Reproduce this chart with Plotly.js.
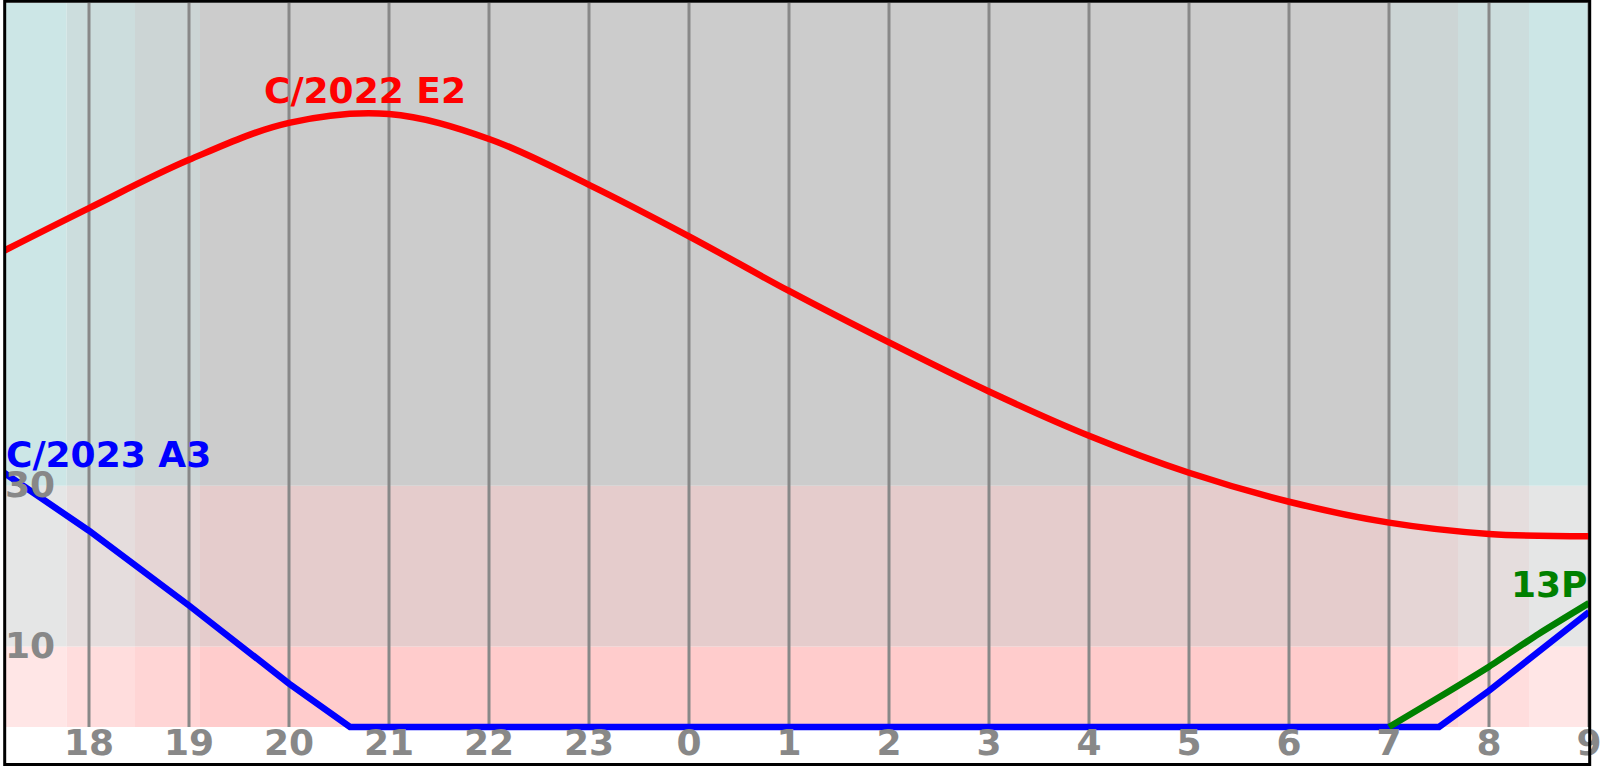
<!DOCTYPE html>
<html>
<head>
<meta charset="utf-8">
<script src="https://cdn.plot.ly/plotly-3.0.1.min.js"></script>
<style>
  html, body { margin: 0; padding: 0; background: #fff; }
  #chart { width: 1600px; height: 766px; }
</style>
</head>
<body>
<div id="chart"></div>
<script>
// ---------- data ----------
// hours (continuing past midnight: 24 = 0h, 33 = 9h)
const xRange = [17.15, 33];

const tickVals = [18, 19, 20, 21, 22, 23, 24, 25, 26, 27, 28, 29, 30, 31, 32, 33];
const tickText = ['18', '19', '20', '21', '22', '23', '0', '1', '2', '3', '4', '5', '6', '7', '8', '9'];

const altTickVals = [10, 30];
const altTickText = ['10', '30'];

// altitude bands (deg)
const bandEdges = [0, 10, 30, 90];

// twilight columns: start hour, end hour, level (0 = day ... 3 = night)
const twStart = [17.15, 17.777, 18.46, 19.11, 31.01, 31.69, 32.40];
const twEnd   = [17.777, 18.46, 19.11, 31.01, 31.69, 32.40, 33.0];
const twLevel = [0, 1, 2, 3, 2, 1, 0];

// comet C/2022 E2
const e2Name = 'C/2022 E2';
const e2X = [17.15, 18, 19, 20, 21, 22, 23, 24, 25, 26, 27, 28, 29, 30, 31, 32, 33];
const e2Y = [59.2, 64.5, 70.5, 75.1, 76.2, 73.1, 67.4, 61.0, 54.2, 47.8, 41.7, 36.2, 31.6, 28.0, 25.4, 24.0, 23.7];

// comet C/2023 A3
const a3Name = 'C/2023 A3';
const a3X = [17.15, 18, 19, 20, 20.61, 31.5, 32, 33];
const a3Y = [31.6, 24.4, 15.1, 5.4, 0, 0, 4.5, 14.3];

// comet 13P
const p13Name = '13P';
const p13X = [31.0, 31.5, 32, 32.5, 33];
const p13Y = [0, 3.7, 7.5, 11.6, 15.4];

// ---------- styling ----------
const FONT = 'DejaVu Sans';
const GRAY = '#888888';
const FS = 36;

function bandColor(bandIdx, level) {
  const g = Math.round(230 - 26 * level / 3);
  const r = [255, 229, 204][bandIdx];
  return 'rgb(' + r + ',' + g + ',' + g + ')';
}

const shapes = [];
for (let i = 0; i < twStart.length; i++) {
  for (let b = 0; b < bandEdges.length - 1; b++) {
    shapes.push({
      type: 'rect', xref: 'x', yref: 'y', layer: 'below',
      x0: twStart[i], x1: twEnd[i], y0: bandEdges[b], y1: bandEdges[b + 1],
      fillcolor: bandColor(b, twLevel[i]), line: { width: 0 }
    });
  }
}
// hour grid lines
tickVals.forEach(function (t) {
  shapes.push({
    type: 'line', xref: 'x', yref: 'y', layer: 'below',
    x0: t, x1: t, y0: bandEdges[0], y1: bandEdges[bandEdges.length - 1],
    line: { color: GRAY, width: 3 }
  });
});
// outer frame
shapes.push({
  type: 'rect', xref: 'paper', yref: 'paper', layer: 'above',
  x0: 0.00044, x1: 1.00044, y0: -0.046, y1: 1.0023,
  line: { color: '#000', width: 3 }, fillcolor: 'rgba(0,0,0,0)'
});

// label position at the series maximum (parabolic refinement for interior maxima)
function peakLabel(name, xs, ys, color) {
  let k = 0;
  for (let i = 1; i < ys.length; i++) if (ys[i] > ys[k]) k = i;
  let anchor = 'center';
  let px = xs[k], py = ys[k], shift = -4;
  if (k === 0) anchor = 'left';
  else if (k === ys.length - 1) anchor = 'right';
  else {
    const h = xs[k + 1] - xs[k];
    const d2 = ys[k + 1] - 2 * ys[k] + ys[k - 1];
    const d1 = (ys[k + 1] - ys[k - 1]) / 2;
    const t = -d1 / d2;
    px = xs[k] + t * h;
    py = ys[k] - d1 * d1 / (2 * d2);
    shift = 0;
  }
  return {
    x: px, y: py, xref: 'x', yref: 'y', text: name, showarrow: false,
    xanchor: anchor, yanchor: 'bottom', yshift: shift,
    font: { family: FONT, size: FS, color: color, weight: 'bold' }
  };
}

const annotations = [
  peakLabel(e2Name, e2X, e2Y, '#ff0000'),
  peakLabel(a3Name, a3X, a3Y, '#0000ff'),
  peakLabel(p13Name, p13X, p13Y, '#008000')
];
altTickVals.forEach(function (v, i) {
  annotations.push({
    x: 0, xref: 'paper', y: v, yref: 'y', text: altTickText[i], showarrow: false,
    xanchor: 'left', yanchor: 'middle', xshift: -1, yshift: 1,
    font: { family: FONT, size: FS, color: GRAY, weight: 'bold' }
  });
});

const lw = 6.5;
const traces = [
  { x: e2X, y: e2Y, mode: 'lines', line: { color: '#ff0000', width: lw, shape: 'spline', smoothing: 1 }, name: e2Name, hoverinfo: 'skip' },
  { x: a3X, y: a3Y, mode: 'lines', line: { color: '#0000ff', width: lw }, name: a3Name, hoverinfo: 'skip' },
  { x: p13X, y: p13Y, mode: 'lines', line: { color: '#008000', width: lw, shape: 'spline', smoothing: 0.6 }, name: p13Name, hoverinfo: 'skip' }
];

const layout = {
  width: 1600, height: 766,
  margin: { l: 4, r: 11, t: 3, b: 35, pad: 0 },
  paper_bgcolor: '#ffffff', plot_bgcolor: '#ffffff',
  showlegend: false,
  xaxis: {
    range: xRange, tickmode: 'array', tickvals: tickVals, ticktext: tickText,
    showgrid: false, zeroline: false, showline: false, ticks: '',
    tickfont: { family: FONT, size: FS, color: GRAY, weight: 'bold' },
    ticklabelstandoff: -13, ticklabeloverflow: 'allow',
    fixedrange: true, automargin: false
  },
  yaxis: {
    range: [-0.5, 90], showgrid: false, zeroline: false, showline: false,
    showticklabels: false, ticks: '', fixedrange: true, automargin: false
  },
  shapes: shapes,
  annotations: annotations
};

Plotly.newPlot('chart', traces, layout, { displayModeBar: false, staticPlot: true });
</script>
</body>
</html>
